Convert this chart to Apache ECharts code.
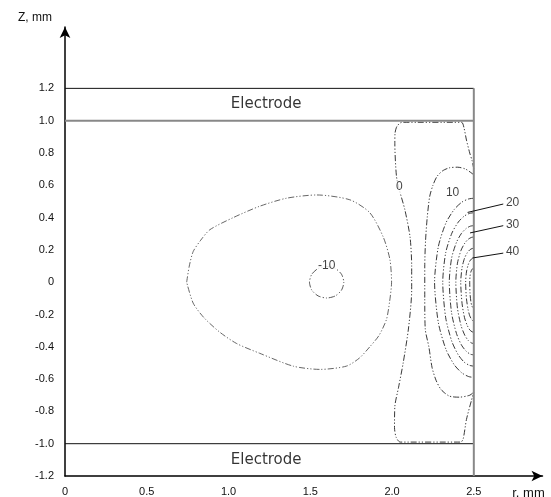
<!DOCTYPE html>
<html>
<head>
<meta charset="utf-8">
<title>Potential contours between electrodes</title>
<script src="https://cdn.jsdelivr.net/npm/echarts@6/dist/echarts.min.js"></script>
<style>
  html, body { margin: 0; padding: 0; background: #fff; }
  #chart { width: 551px; height: 497px; }
</style>
</head>
<body>
<div id="chart"></div>
<script>
// axis ticks
const rTicks = [0, 0.5, 1.0, 1.5, 2.0, 2.5]
const zTicks = [-1.2, -1.0, -0.8, -0.6, -0.4, -0.2, 0, 0.2, 0.4, 0.6, 0.8, 1.0, 1.2]

// electrode band edges and the side wall
const electrodeTop    = [[0, 1.2], [2.5, 1.2]]
const electrodeTopIn  = [[0, 1.0], [2.5, 1.0]]
const electrodeBotIn  = [[0, -1.0], [2.5, -1.0]]
const sideWall        = [[2.5, -1.2], [2.5, 1.2]]

// contour lines (r, z)
const contourM10 = [[0.744,0],[0.76,0.10],[0.784,0.19],[0.83,0.26],[0.886,0.325],[1.029,0.40],[1.19,0.47],[1.355,0.52],[1.54,0.54],[1.742,0.51],[1.864,0.43],[1.946,0.28],[1.987,0.14],[1.997,0],[1.985,-0.12],[1.966,-0.23],[1.92,-0.33],[1.864,-0.40],[1.80,-0.47],[1.72,-0.52],[1.56,-0.54],[1.396,-0.52],[1.19,-0.44],[1.05,-0.38],[0.947,-0.31],[0.85,-0.22],[0.784,-0.13],[0.744,0]]
const contourM20 = [[1.6,0.098],[1.653,0.085],[1.691,0.049],[1.705,0],[1.691,-0.049],[1.653,-0.085],[1.6,-0.098],[1.548,-0.085],[1.509,-0.049],[1.495,0],[1.509,0.049],[1.548,0.085],[1.6,0.098]]
const contour0   = [[2.5,0.70],[2.49,0.75],[2.475,0.80],[2.455,0.88],[2.44,0.955],[2.425,0.99],[2.06,0.99],[2.03,0.965],[2.018,0.92],[2.017,0.86],[2.027,0.655],[2.045,0.57],[2.078,0.45],[2.11,0.28],[2.12,0.10],[2.12,-0.05],[2.10,-0.29],[2.068,-0.50],[2.04,-0.65],[2.017,-0.77],[2.015,-0.90],[2.025,-0.96],[2.05,-0.99],[2.42,-0.99],[2.435,-0.97],[2.455,-0.85],[2.486,-0.73],[2.5,-0.68]]
const contour10  = [[2.5,0.665],[2.45,0.70],[2.40,0.712],[2.35,0.708],[2.31,0.69],[2.275,0.655],[2.25,0.60],[2.23,0.53],[2.215,0.40],[2.205,0.26],[2.2,0.10],[2.2,-0.10],[2.203,-0.29],[2.225,-0.40],[2.245,-0.53],[2.27,-0.61],[2.30,-0.665],[2.35,-0.705],[2.41,-0.712],[2.475,-0.70],[2.5,-0.68]]
const contour20  = [[2.5,0.52],[2.467,0.515],[2.426,0.495],[2.38,0.45],[2.33,0.368],[2.283,0.22],[2.26,0],[2.283,-0.25],[2.33,-0.417],[2.38,-0.511],[2.426,-0.561],[2.467,-0.584],[2.5,-0.59]]
const contour30  = [[2.5,0.43],[2.474,0.426],[2.441,0.409],[2.405,0.372],[2.366,0.304],[2.328,0.182],[2.31,0],[2.328,-0.22],[2.366,-0.368],[2.405,-0.45],[2.441,-0.495],[2.474,-0.515],[2.5,-0.52]]
const contour40  = [[2.5,0.35],[2.479,0.347],[2.454,0.333],[2.425,0.303],[2.394,0.247],[2.364,0.148],[2.35,0],[2.364,-0.19],[2.394,-0.318],[2.425,-0.39],[2.454,-0.428],[2.479,-0.446],[2.5,-0.45]]
const contour50  = [[2.5,0.28],[2.485,0.277],[2.466,0.266],[2.445,0.242],[2.422,0.198],[2.40,0.118],[2.39,0],[2.40,-0.161],[2.422,-0.269],[2.445,-0.329],[2.466,-0.361],[2.485,-0.376],[2.5,-0.38]]
const contour60  = [[2.5,0.21],[2.489,0.208],[2.475,0.20],[2.46,0.182],[2.443,0.148],[2.428,0.089],[2.42,0],[2.428,-0.131],[2.443,-0.219],[2.46,-0.268],[2.475,-0.295],[2.489,-0.307],[2.5,-0.31]]
const contour70  = [[2.5,0.15],[2.493,0.149],[2.485,0.143],[2.475,0.13],[2.465,0.106],[2.455,0.063],[2.45,0],[2.455,-0.102],[2.465,-0.17],[2.475,-0.208],[2.485,-0.228],[2.493,-0.238],[2.5,-0.24]]
const contour80  = [[2.5,0.09],[2.488,0.078],[2.482,0.064],[2.477,0.038],[2.475,0],[2.477,-0.072],[2.482,-0.12],[2.488,-0.147],[2.5,-0.17]]

// leader lines for the 20 / 30 / 40 labels
const leader20 = [[2.462,0.432],[2.68,0.484]]
const leader30 = [[2.477,0.305],[2.68,0.35]]
const leader40 = [[2.493,0.15],[2.68,0.18]]

// text: [text, r, z]
const electrodeTexts = [['Electrode', 1.23, 1.1], ['Electrode', 1.23, -1.1]]
const levelTexts     = [['-10', 1.60, 0.10], ['0', 2.045, 0.59], ['10', 2.37, 0.555]]
const sideTexts      = [['20', 2.69, 0.49], ['30', 2.69, 0.355], ['40', 2.69, 0.19]]

const FONT = 'Liberation Sans, Arial, sans-serif'
const dashDot = [6, 2, 1.2, 2, 1.2, 2]

const chart = echarts.init(document.getElementById('chart'), null, { renderer: 'canvas' })

const solid = (data, color, width) => ({
  type: 'line', data, symbol: 'none', silent: true, clip: false,
  lineStyle: { color, width, type: 'solid' }, z: 3,
})
const contour = (data, color) => ({
  type: 'line', data, symbol: 'none', silent: true, smooth: 0.25,
  lineStyle: { color, width: 0.9, type: dashDot }, z: 2,
})
const texts = (rows, label) => ({
  type: 'scatter', symbolSize: 0, silent: true, z: 10,
  data: rows.map(n => ({ name: n[0], value: [n[1], n[2]] })),
  label: Object.assign({ show: true, formatter: '{b}', color: '#111', fontFamily: FONT }, label),
})

const fmt = v => Math.abs(v) < 1e-9 ? '0' : v.toFixed(1)

const opt = {
  animation: false,
  backgroundColor: '#fff',
  grid: { left: 65, right: 8.5, top: 27, bottom: 21, show: false, containLabel: false, outerBoundsMode: 'none' },
  xAxis: {
    type: 'value', min: 0, max: 2.92,
    name: 'r, mm', nameLocation: 'end', nameGap: -14,
    nameTextStyle: { fontFamily: FONT, fontSize: 13, color: '#111', align: 'center', verticalAlign: 'top', padding: [11, 0, 0, 0] },
    axisLine: { show: true, onZero: false, symbol: ['none', 'arrow'], symbolSize: [8, 11], lineStyle: { color: '#000', width: 1.5 } },
    axisTick: { show: false },
    splitLine: { show: false },
    axisLabel: { customValues: rTicks, formatter: fmt, fontFamily: FONT, fontSize: 11, color: '#111', margin: 10 },
  },
  yAxis: {
    type: 'value', min: -1.2, max: 1.58,
    name: 'Z, mm', nameLocation: 'end', nameGap: 9,
    nameTextStyle: { fontFamily: FONT, fontSize: 12, color: '#111', align: 'right', verticalAlign: 'middle', padding: [0, 13, 0, 0] },
    axisLine: { show: true, onZero: false, symbol: ['none', 'arrow'], symbolSize: [8, 11], lineStyle: { color: '#000', width: 1.5 } },
    axisTick: { show: false },
    splitLine: { show: false },
    axisLabel: { customValues: zTicks, formatter: fmt, fontFamily: FONT, fontSize: 11, color: '#111', margin: 11 },
  },
  series: [
    contour(contourM10, '#555'),
    contour(contourM20, '#444'),
    contour(contour0, '#222'),
    contour(contour10, '#222'),
    contour(contour20, '#222'),
    contour(contour30, '#222'),
    contour(contour40, '#222'),
    contour(contour50, '#222'),
    contour(contour60, '#222'),
    contour(contour70, '#222'),
    contour(contour80, '#222'),
    solid(electrodeTop, '#111', 1),
    solid(electrodeTopIn, '#888', 2),
    solid(electrodeBotIn, '#111', 1),
    solid(sideWall, '#888', 2),
    solid(leader20, '#111', 1),
    solid(leader30, '#111', 1),
    solid(leader40, '#111', 1),
    texts(electrodeTexts, { position: 'inside', fontSize: 15, color: '#000', fontFamily: 'DejaVu Sans, sans-serif' }),
    texts(levelTexts, { position: 'inside', fontSize: 12, backgroundColor: '#fff', padding: [0, 1] }),
    texts(sideTexts, { position: 'right', distance: 1, fontSize: 12 }),
  ],
}

chart.setOption(opt, true)
</script>
</body>
</html>
